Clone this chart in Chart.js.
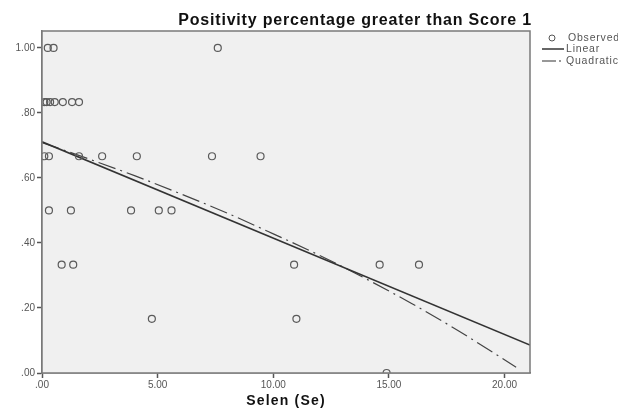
<!DOCTYPE html>
<html>
<head>
<meta charset="utf-8">
<script src="https://cdn.jsdelivr.net/npm/chart.js@4.4.0/dist/chart.umd.min.js"></script>
<style>
  html, body { margin: 0; padding: 0; background: #fff; }
  #wrap { width: 618px; height: 412px; }
</style>
</head>
<body>
<div id="wrap"><canvas id="scatter-chart" width="618" height="412"></canvas></div>
<script>
// observed points (Selen value, positivity fraction)
const obsX = [0.25, 0.5, 7.6,
  0.1, 0.2, 0.35, 0.55, 0.9, 1.3, 1.6,
  0.1, 0.3, 1.6, 2.6, 4.1, 7.35, 9.45,
  0.3, 1.25, 3.85, 5.05, 5.6,
  0.85, 1.35, 10.9, 14.6, 16.3,
  4.75, 11.0,
  14.9];
const obsY = [1.0, 1.0, 1.0,
  0.8333, 0.8333, 0.8333, 0.8333, 0.8333, 0.8333, 0.8333,
  0.6667, 0.6667, 0.6667, 0.6667, 0.6667, 0.6667, 0.6667,
  0.5, 0.5, 0.5, 0.5, 0.5,
  0.3333, 0.3333, 0.3333, 0.3333, 0.3333,
  0.1667, 0.1667,
  0.0];

// fitted lines
const linX = [0, 21.1];
const linY = [0.711, 0.086];
const quadX = [0, 2, 4, 6, 8, 10, 12, 14, 16, 18, 20.5];
const quadY = [0.709, 0.659, 0.607, 0.551, 0.492, 0.428, 0.362, 0.290, 0.213, 0.130, 0.018];

const xTicks = [0, 5, 10, 15, 20];
const yTicks = [0, 0.2, 0.4, 0.6, 0.8, 1.0];

const titleText = 'Positivity percentage greater than Score 1';
const xTitle = 'Selen (Se)';
const legendLabels = ['Observed', 'Linear', 'Quadratic'];

const toPts = (xs, ys) => xs.map((x, i) => ({ x: x, y: ys[i] }));
const fmt = (v) => v.toFixed(2).replace(/^0\./, '.');
const FONT = 'Arial, "Liberation Sans", sans-serif';

// background, frame, title, axis title and legend
const decor = {
  id: 'decor',
  beforeDatasetsDraw(chart) {
    const { ctx, chartArea: a } = chart;
    ctx.save();
    ctx.fillStyle = '#f0f0f0';
    ctx.fillRect(a.left, a.top, a.right - a.left, a.bottom - a.top);
    ctx.restore();
  },
  afterDraw(chart) {
    const { ctx, chartArea: a } = chart;
    ctx.save();
    ctx.strokeStyle = '#7a7a7a';
    ctx.lineWidth = 1.5;
    ctx.strokeRect(a.left, a.top, a.right - a.left, a.bottom - a.top);

    ctx.fillStyle = '#111';
    ctx.textBaseline = 'middle';
    ctx.font = 'bold 16px ' + FONT;
    ctx.letterSpacing = '0.8px';
    ctx.textAlign = 'right';
    ctx.fillText(titleText, a.right + 2, 21);

    ctx.font = 'bold 14px ' + FONT;
    ctx.letterSpacing = '1.2px';
    ctx.textAlign = 'center';
    ctx.fillText(xTitle, (a.left + a.right) / 2, 401);

    // legend
    ctx.font = '10.5px ' + FONT;
    ctx.letterSpacing = '0.8px';
    ctx.textAlign = 'left';
    ctx.fillStyle = '#555';
    ctx.strokeStyle = '#555';
    ctx.lineWidth = 1;
    ctx.beginPath();
    ctx.arc(552, 38, 3, 0, Math.PI * 2);
    ctx.stroke();
    ctx.fillText(legendLabels[0], 568, 38);

    ctx.strokeStyle = '#333';
    ctx.lineWidth = 1.5;
    ctx.beginPath();
    ctx.moveTo(542, 49);
    ctx.lineTo(564, 49);
    ctx.stroke();
    ctx.fillText(legendLabels[1], 566, 49);

    ctx.lineWidth = 1.2;
    ctx.setLineDash([14, 3, 2, 3]);
    ctx.beginPath();
    ctx.moveTo(542, 61);
    ctx.lineTo(564, 61);
    ctx.stroke();
    ctx.setLineDash([]);
    ctx.fillText(legendLabels[2], 566, 61);
    ctx.restore();
  }
};

const ctx = document.getElementById('scatter-chart').getContext('2d');
new Chart(ctx, {
  type: 'scatter',
  data: {
    datasets: [
      {
        label: legendLabels[0],
        data: toPts(obsX, obsY),
        pointStyle: 'circle',
        pointRadius: 3.5,
        pointBorderWidth: 1.2,
        pointBorderColor: '#5a5a5a',
        pointBackgroundColor: 'rgba(0,0,0,0)',
        showLine: false
      },
      {
        label: legendLabels[1],
        data: toPts(linX, linY),
        showLine: true,
        borderColor: '#333',
        borderWidth: 1.6,
        pointRadius: 0
      },
      {
        label: legendLabels[2],
        data: toPts(quadX, quadY),
        showLine: true,
        borderColor: '#444',
        borderWidth: 1.2,
        borderDash: [18, 5, 2, 5],
        cubicInterpolationMode: 'monotone',
        pointRadius: 0
      }
    ]
  },
  options: {
    responsive: false,
    animation: false,
    layout: { padding: { top: 31, right: 88, left: 0, bottom: 0 } },
    plugins: {
      legend: { display: false },
      title: { display: false },
      tooltip: { enabled: false }
    },
    scales: {
      x: {
        type: 'linear',
        min: 0,
        max: 21.1,
        afterBuildTicks: (s) => { s.ticks = xTicks.map((v) => ({ value: v })); },
        afterFit: (s) => { s.height = 39; },
        grid: { drawOnChartArea: false, drawTicks: true, tickLength: 5, color: '#555', tickWidth: 1.5 },
        border: { color: '#7a7a7a', width: 1.5 },
        ticks: {
          padding: 1,
          color: '#555',
          font: { size: 10, family: FONT },
          maxRotation: 0,
          callback: (v) => fmt(v)
        }
      },
      y: {
        type: 'linear',
        min: 0,
        max: 1.052,
        afterBuildTicks: (s) => { s.ticks = yTicks.map((v) => ({ value: v })); },
        afterFit: (s) => { s.width = 42; },
        grid: { drawOnChartArea: false, drawTicks: true, tickLength: 5, color: '#555', tickWidth: 1.5 },
        border: { color: '#7a7a7a', width: 1.5 },
        ticks: {
          padding: 2,
          color: '#555',
          font: { size: 10, family: FONT },
          callback: (v) => fmt(v)
        }
      }
    }
  },
  plugins: [decor]
});
</script>
</body>
</html>
